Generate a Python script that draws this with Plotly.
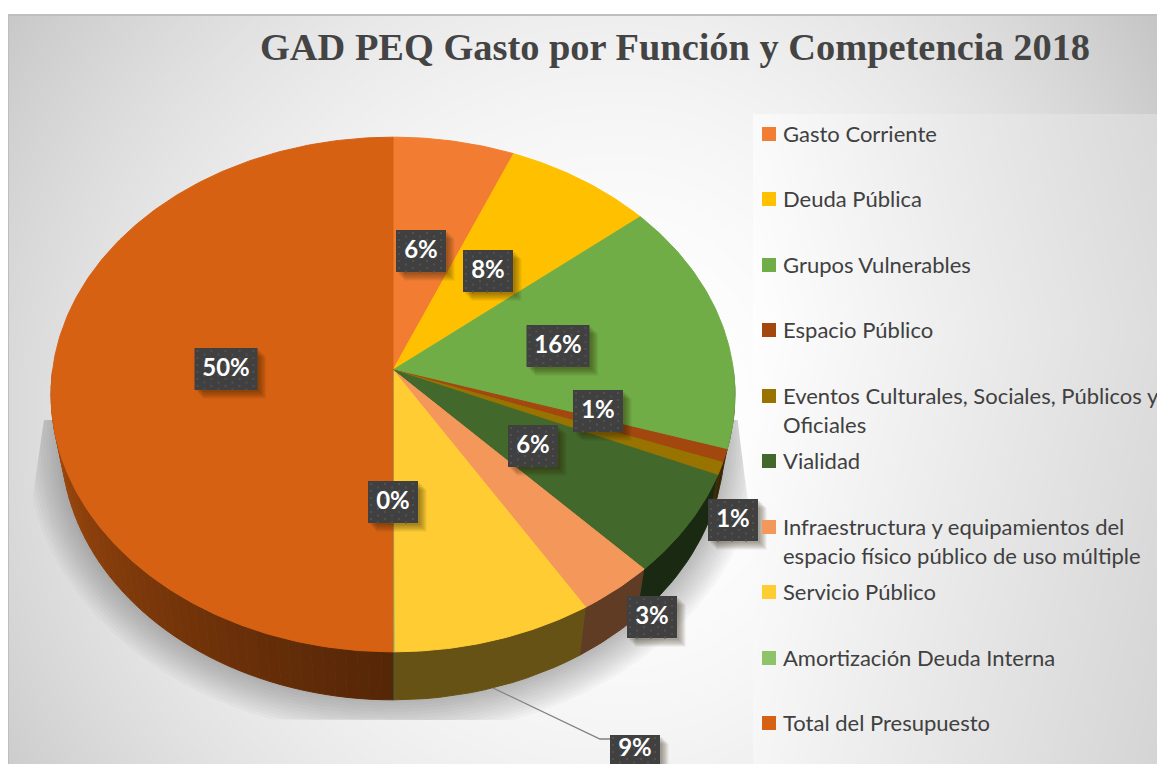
import numpy as np
import plotly.graph_objects as go

# ---- data -------------------------------------------------------------
categories = ["Gasto Corriente", "Deuda Pública", "Grupos Vulnerables", "Espacio Público",
              "Eventos Culturales, Sociales, Públicos y<br>Oficiales", "Vialidad",
              "Infraestructura y equipamientos del<br>espacio físico público de uso múltiple",
              "Servicio Público", "Amortización Deuda Interna", "Total del Presupuesto"]
values = [6.3, 7.7, 15.9, 0.8, 0.8, 6.45, 3.35, 8.65, 0.05, 50.0]
title_text = "GAD PEQ Gasto por Función y Competencia 2018"

# ---- style ------------------------------------------------------------
colors = ["#F27D32", "#FFC000", "#70AD47", "#A2480E", "#997300", "#43682B",
          "#F4975A", "#FFCD33", "#8FC36A", "#D66112"]
W, H = 1165, 764
OFF = 8            # the page body margin
CX, CY, A, B, P, DEPTH = 393, 370, 340.4, 255.0, 0.0952, 48
label_centers = [(421, 251), (488, 271), (558, 346), (598, 411), (733, 520),
                 (533, 446), (652, 617), (635, 756), (393, 502), (226, 369)]
legend_y = [134, 199, 265, 330, 396, 461, 527, 592, 658, 723]


def rim(t):
    """Point of the tilted pie's edge, angle t clockwise from the top."""
    t = np.asarray(t, float)
    down = -np.cos(t)
    w = 1 - P * down
    return CX + A * np.sin(t) / w, CY + B * down / w


def lower(t):
    x, y = rim(t)
    return CX + (x - CX) * 0.97, y + DEPTH


def shade(hexcol, f):
    r, g, b = (int(hexcol[i:i + 2], 16) for i in (1, 3, 5))
    return f"rgb({int(r*f)},{int(g*f)},{int(b*f)})"


fig = go.Figure()

# panel background
gx = np.arange(OFF, W + 2, 2.0)
gy = np.arange(15, H + 2, 2.0)
X, Y = np.meshgrid(gx, gy)
ax = np.where(X > 620, 650, 770)
bg = 255 - 60 * (((X - 620) / ax) ** 2 + ((Y - 420) / 755) ** 2)
inset = (X >= 754) & (Y >= 115)
diag = ((X - 754) / 411) * 0.8 + np.abs(Y - 330) / 434 * 0.2
bg[inset] = (254 - 42 * diag)[inset]
bg[np.abs(Y - 15) < 1] = 190
bg[np.abs(X - OFF) < 1] = 190
fig.add_trace(go.Heatmap(x=gx, y=gy, z=bg.round(), zmin=0, zmax=255, showscale=False,
                         colorscale=[[0, "#000"], [1, "#fff"]], hoverinfo="skip"))


def poly(x, y, fill, line=None, name=None):
    fig.add_trace(go.Scatter(x=x, y=y, mode="lines", fill="toself", fillcolor=fill,
                             line=dict(color=line or "rgba(0,0,0,0)", width=1 if line else 0),
                             showlegend=False, name=name,
                             hoverinfo="name" if name else "skip"))


# soft floor shadow, cut by the reflection's cone and floor line
ts = np.linspace(np.pi * 0.5, np.pi * 1.5, 200)
for k in range(12):
    sx, sy = lower(ts)
    grow = (k + 1) * 3.0
    sx = CX + (sx - CX) * (1 + grow / 332)
    sy = 442 + (sy - 442) * (1 + grow / 257)
    sy = np.clip(sy, 420, 720)
    sx = np.maximum(sx, 44 - (sy - 420) * 16 / 110)
    sx = np.minimum(sx, 735 + (sy - 400) * 18 / 140)
    sx = np.minimum(sx, 754)
    poly(sx, sy, "rgba(60,60,60,0.032)")

# slices from the values
total = sum(values)
edges = np.concatenate([[0], np.cumsum(values)]) / total * 2 * np.pi

# wall
for i in range(len(values)):
    a, b = edges[i], edges[i + 1]
    lo, hi = max(a, np.pi / 2), min(b, np.pi * 1.5)
    if hi <= lo:
        continue
    nb = 50 if i == len(values) - 1 else 1
    steps = np.linspace(lo, hi, nb + 1)
    for j in range(nb):
        t = np.linspace(steps[j], steps[j + 1], 14)
        f = 0.40
        if nb > 1:
            f = 0.40 + 0.40 * ((t.mean() - np.pi) / (np.pi / 2)) ** 1.1
        c = shade(colors[i], f)
        tx, ty = rim(t)
        bx, by = lower(t)
        poly(np.r_[tx, bx[::-1]], np.r_[ty, by[::-1]], c, c)

# top face
for i, name in enumerate(categories):
    t = np.linspace(edges[i], edges[i + 1], max(4, int((edges[i + 1] - edges[i]) * 80)))
    tx, ty = rim(t)
    poly(np.r_[CX, tx, CX], np.r_[CY, ty, CY], colors[i], colors[i],
         name=name.replace("<br>", " ") + f": {values[i]:.0f}%")

# leader line
fig.add_trace(go.Scatter(x=[493, 600, 612], y=[688, 739, 739], mode="lines",
                         line=dict(color="#7f7f7f", width=1.3),
                         showlegend=False, hoverinfo="skip"))

# data-label boxes
labels = [f"{v:.0f}%" for v in values]
dots_x, dots_y = [], []
for (cx, cy), lab in zip(label_centers, labels):
    hw = 31.5 if len(lab) == 3 else 25
    hh = 21
    for k in range(6):
        d = 2 + k * 1.3
        poly([cx - hw + d, cx + hw + d, cx + hw + d, cx - hw + d],
             [cy - hh + d, cy - hh + d, cy + hh + d, cy + hh + d], "rgba(40,30,0,0.08)")
    poly([cx - hw, cx + hw, cx + hw, cx - hw], [cy - hh, cy - hh, cy + hh, cy + hh], "#404040")
    for px in np.arange(cx - hw + 3, cx + hw - 1, 7):
        for py in np.arange(cy - hh + 3, cy + hh - 1, 7):
            dots_x.append(px)
            dots_y.append(py + (3.5 if int((px - cx + hw) / 7) % 2 else 0))
fig.add_trace(go.Scatter(x=dots_x, y=dots_y, mode="markers",
                         marker=dict(size=2, color="#505050", symbol="square"),
                         showlegend=False, hoverinfo="skip"))
fig.add_trace(go.Scatter(x=[c[0] for c in label_centers],
                         y=[min(c[1] + 1, 750) for c in label_centers],
                         mode="text", text=[f"<b>{s}</b>" for s in labels],
                         textposition="middle center",
                         textfont=dict(family="Lato", size=24, color="#ffffff"),
                         showlegend=False, hoverinfo="skip"))

# legend
fig.add_trace(go.Scatter(x=[769] * len(categories), y=legend_y, mode="markers",
                         marker=dict(symbol="square", size=14, color=colors, line=dict(width=0)),
                         showlegend=False, hoverinfo="skip"))
annotations = [dict(x=782, y=y - 15, text=c, xref="x", yref="y", xanchor="left", yanchor="top",
                    align="left", showarrow=False, borderpad=0,
                    font=dict(family="Lato", size=22, color="#404040"))
               for c, y in zip(categories, legend_y)]
annotations.append(dict(x=675, y=47, text=f"<b>{title_text}</b>", xref="x", yref="y",
                        xanchor="center", yanchor="middle", showarrow=False,
                        font=dict(family="Liberation Serif", size=38.4, color="#444444")))

fig.update_layout(width=W - OFF, height=H - OFF, autosize=False,
                  margin=dict(l=0, r=0, t=0, b=0),
                  paper_bgcolor="#ffffff", plot_bgcolor="#ffffff", showlegend=False,
                  annotations=annotations,
                  xaxis=dict(range=[OFF, W], visible=False, fixedrange=True),
                  yaxis=dict(range=[H, OFF], visible=False, fixedrange=True))
fig.write_html("out.html", config=dict(displayModeBar=False))
